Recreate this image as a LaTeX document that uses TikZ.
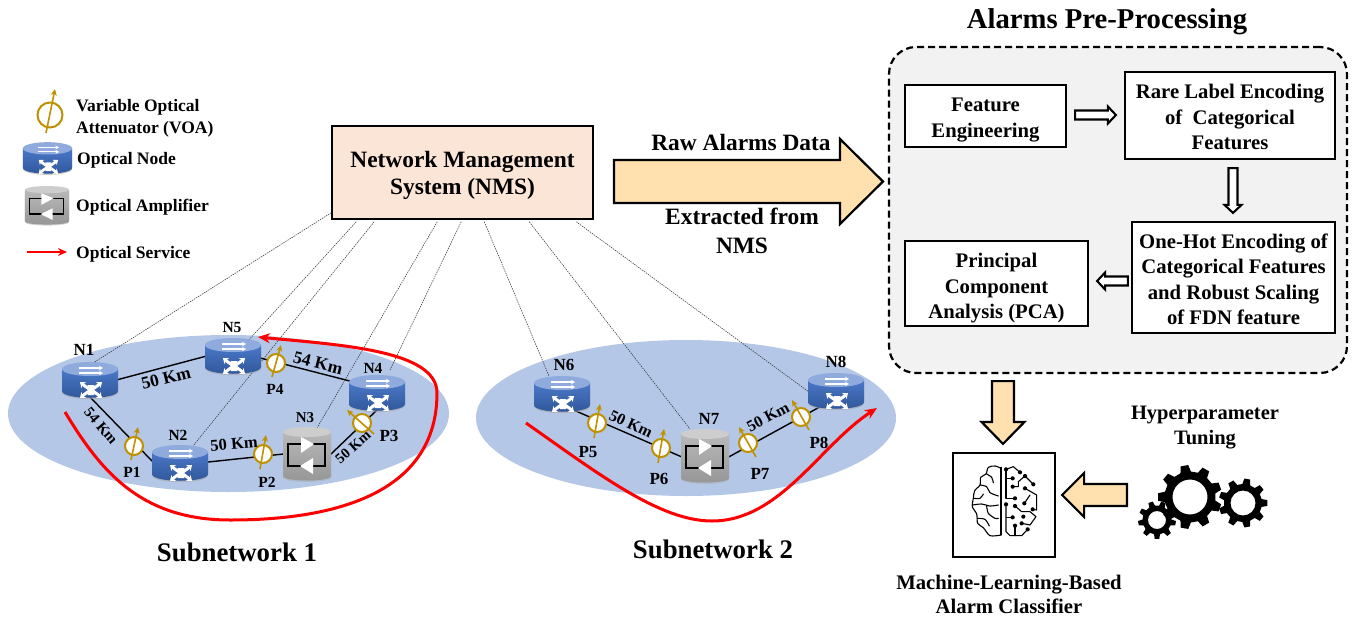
\documentclass[tikz,border=0pt]{standalone}
\usepackage{fontspec}
\setmainfont{Liberation Serif}
\usetikzlibrary{calc,arrows.meta,shapes.geometric}
\definecolor{subnetblue}{HTML}{B4C7E7}
\definecolor{routertop}{HTML}{8FAADC}
\definecolor{routerhi}{HTML}{4A78C8}
\definecolor{routerlo}{HTML}{2F5597}
\definecolor{amptop}{HTML}{CDCDCD}
\definecolor{amphi}{HTML}{B8B8B8}
\definecolor{amplo}{HTML}{969696}
\definecolor{voagold}{HTML}{BF9000}
\definecolor{nmsfill}{HTML}{FBE5D6}
\definecolor{panelfill}{HTML}{F2F2F2}
\definecolor{flowfill}{HTML}{FFE0AE}
\newcommand\fs[1]{\fontsize{#1}{#1}\selectfont\bfseries}
\newcommand\topgap[1]{\rule{0pt}{#1pt}}
\tikzset{
  lbl/.style={inner sep=0,align=center,font=\fs{#1}},
  blockbox/.style={draw=black,line width=2.2pt,fill=white,inner sep=0,align=center,font=\fontsize{20.7}{25.5}\selectfont\bfseries},
  link/.style={draw=black,line width=1.4pt},
  ctrl/.style={draw=black!80,line width=0.55pt,dash pattern=on 1.4pt off 1pt},
  service/.style={draw=red,line width=3pt,-{Stealth[length=12pt,width=10pt]}},
  hollow/.style={draw=black,line width=2.1pt,fill=white,line join=miter},
  flow/.style={draw=black,line width=2.2pt,fill=flowfill,line join=miter},
  voacirc/.style={circle,draw=voagold,line width=2pt,fill=white,inner sep=0,minimum size=18pt},
  voaarrow/.style={draw=voagold,line width=1.6pt,-{Stealth[length=6.5pt,width=6pt]}}
}
% block arrow between two named coordinates: style, a, b, half width, head half width, head length
\newcommand\blockarrow[6][]{%
  \coordinate (hb) at ($(#3)!#6!(#2)$);
  \draw[#1] ($(#2)!#4!90:(#3)$) -- ($(hb)!#4!90:(#3)$) -- ($(hb)!#5!90:(#3)$) -- (#3)
    -- ($(hb)!#5!-90:(#3)$) -- ($(hb)!#4!-90:(#3)$) -- ($(#2)!#4!-90:(#3)$) -- cycle;
}
% router: name, x, y, scale
\newcommand\routerdraw[4]{%
  \node[inner sep=0,minimum width=#4*56pt,minimum height=#4*36pt] (#1) at (#2,#3) {};
  \begin{scope}[shift={(#2,#3)},x=#4*1pt,y=-#4*1pt]
    \fill[black!35,opacity=.6] (-28,-10) -- (-28,12) .. controls (-28,21.5) and (28,21.5) .. (28,12) -- (28,-10) -- cycle;
    \shade[top color=routerhi,bottom color=routerlo] (-28,-11) -- (-28,11) .. controls (-28,20) and (28,20) .. (28,11) -- (28,-11) -- cycle;
    \fill[routertop] (0,-11) ellipse [x radius=#4*28pt,y radius=#4*7pt];
    \draw[white,line width=#4*1.4pt,-{Stealth[length=#4*4pt,width=#4*4.5pt]}] (-11,-12) -- (13,-12);
    \draw[white,line width=#4*1.4pt,-{Stealth[length=#4*4pt,width=#4*4.5pt]}] (-11,-7) -- (13,-7);
    \foreach \sx/\sy in {-1/-1,1/-1,-1/1,1/1}
      \draw[white,line width=#4*3pt,-{Stealth[length=#4*5pt,width=#4*7.5pt]}] (1,10) .. controls (1+2*\sx,10+\sy) and (1+5*\sx,10+3*\sy) .. (1+11*\sx,10+8*\sy);
    \fill[white] (-2.5,5) -- (4.5,5) -- (3,10) -- (4.5,15) -- (-2.5,15) -- (-1,10) -- cycle;
  \end{scope}}
% amplifier: name, x, y, xscale, yscale
\newcommand\ampdraw[5]{%
  \node[inner sep=0,minimum width=#4*48pt,minimum height=#5*54pt] (#1) at (#2,#3) {};
  \begin{scope}[shift={(#2,#3)},x=#4*1pt,y=-#5*1pt]
    \fill[black!35,opacity=.45] (-24,-21) -- (-24,23) .. controls (-24,29.5) and (24,29.5) .. (24,23) -- (24,-21) -- cycle;
    \shade[top color=amphi,bottom color=amplo] (-24,-21) -- (-24,22) .. controls (-24,28) and (24,28) .. (24,22) -- (24,-21) -- cycle;
    \fill[amptop] (0,-22) ellipse [x radius=#4*24pt,y radius=#5*5pt];
    \draw[black,line width=#4*1.5pt] (-19,-10) rectangle (18,12);
    \fill[white] (-6,-17) -- (7,-10) -- (-6,-1) -- cycle;
    \fill[white] (6,4) -- (-7,12) -- (6,20) -- cycle;
  \end{scope}}
% VOA: name, x, y, arrow start offset, arrow end offset
\newcommand\voadraw[5]{%
  \node[voacirc] (#1) at (#2,#3) {};
  \draw[voaarrow] ($(#1)+(#4)$) -- ($(#1)+(#5)$);}
% gear: x,y,outer,root,hole,teeth,offset
\newcommand\geardraw[7]{%
  \pgfmathsetmacro\gp{360/#6}
  \fill[black,even odd rule] ([shift={(#1,#2)}]#7-.3*\gp:#4)
    \foreach \i in {1,...,#6}{
      \pgfextra{\pgfmathsetmacro\ga{#7+(\i-1)*\gp}}
      -- ([shift={(#1,#2)}]\ga-.3*\gp:#4)
      -- ([shift={(#1,#2)}]\ga-.17*\gp:#3)
      -- ([shift={(#1,#2)}]\ga+.17*\gp:#3)
      -- ([shift={(#1,#2)}]\ga+.3*\gp:#4)
    } -- cycle
    (#1,#2) circle [radius=#5 pt];}
\begin{document}
\begin{tikzpicture}[x=1pt,y=-1pt]
\useasboundingbox (0,0) rectangle (1353,619);
\fill[white] (0,0) rectangle (1353,619);

% subnetwork clouds
\node[ellipse,fill=subnetblue,inner sep=0,minimum width=441pt,minimum height=157pt] (sub1) at (228.5,413.5) {};
\node[ellipse,fill=subnetblue,inner sep=0,minimum width=420pt,minimum height=156pt] (sub2) at (686,418) {};

% panel
\node[draw=black,line width=2.2pt,dash pattern=on 7pt off 4pt,fill=panelfill,rounded corners=27pt,inner sep=0,minimum width=458pt,minimum height=326pt] (panel) at (1118,210) {};

% NMS
\node[draw=black,line width=1.5pt,fill=nmsfill,inner sep=0,minimum width=261pt,minimum height=93pt,align=center,font=\fontsize{23.4}{26.5}\selectfont\bfseries] (nms) at (462.5,172.5) {\topgap{22}Network Management\\System (NMS)};

\path (90,380) coordinate (cn1) (233,356) coordinate (cn5) (377,393) coordinate (cn4)
      (180,463) coordinate (cn2) (307,454) coordinate (cn3)
      (562,394) coordinate (cn6) (705,456) coordinate (cn7) (836,391) coordinate (cn8);

% control lines
\draw[ctrl] ($(nms.south west)+(0,-7)$) -- ($(cn1)+(3,-17)$);
\draw[ctrl] ($(nms.south west)+(25,2)$) -- ($(cn5)+(14,-14)$);
\draw[ctrl] ($(nms.south west)+(43,2)$) -- ($(cn2)+(13,-17)$);
\draw[ctrl] ($(nms.south west)+(106,2)$) -- ($(cn3)+(10,-26)$);
\draw[ctrl] ($(nms.south west)+(130,2)$) -- ($(cn4)+(13,-23)$);
\draw[ctrl] ($(nms.south west)+(153,2)$) -- ($(cn6)+(-13,-18)$);
\draw[ctrl] ($(nms.south west)+(198,2)$) -- ($(cn7)+(-15,-27)$);
\draw[ctrl] ($(nms.south west)+(245,2)$) -- ($(cn8)+(-27,1)$);

% links
\draw[link] ($(cn1)+(0,7)$) -- ($(cn5)+(0,-7)$);
\draw[link] ($(cn5)+(0,-5)$) -- ($(cn4)+(0,-5)$);
\draw[link] ($(cn1)+(0,17)$) -- ($(cn2)+(-27,-1)$);
\draw[link] ($(cn2)+(0,2)$) -- ($(cn3)+(0,-2.5)$);
\draw[link] ($(cn3)+(24,0)$) -- ($(cn4)+(0,17)$);
\draw[link] ($(cn6)+(0,11)$) -- ($(cn7)+(0,11)$);
\draw[link] ($(cn7)+(0,14)$) -- ($(cn8)+(0,7)$);

% network devices
\routerdraw{n1}{90}{380}{1}
\routerdraw{n5}{233}{356}{1}
\routerdraw{n4}{377}{393}{1}
\routerdraw{n2}{180}{463}{1}
\ampdraw{n3}{307}{454}{1}{1}
\routerdraw{n6}{562}{394}{1}
\ampdraw{n7}{705}{456}{1}{1}
\routerdraw{n8}{836}{391}{1}

% VOAs
\voadraw{p1}{134}{446}{-3,14}{4,-19}
\voadraw{p2}{263}{454}{-3,15}{3,-19}
\voadraw{p3}{362}{423}{12,11}{-15,-13}
\voadraw{p4}{276}{363}{-4,14}{5,-18}
\voadraw{p5}{597}{423}{-3,15}{3,-19}
\voadraw{p6}{661}{448}{-3,15}{3,-19}
\voadraw{p7}{748}{443}{8,14}{-9,-16}
\voadraw{p8}{801}{417}{8,13}{-9,-17}

% device labels
\foreach \nm/\px/\py/\tx/\sz in {ln1/84/350/N1/17,ln5/232/327/N5/15.5,ln4/373/368/N4/15.5,ln2/178/435/N2/15.5,ln3/305/418/N3/15,ln6/564/365/N6/17,ln7/709/419/N7/17,ln8/836/362/N8/17}
  \node[lbl=\sz] (\nm) at (\px,\py) {\tx};
\foreach \nm/\px/\py/\tx/\sz in {lp1/132/472/P1/15.5,lp2/267/482/P2/15.5,lp3/389/436/P3/17,lp4/275/389/P4/15.5,lp5/588/452/P5/17,lp6/659/479/P6/17,lp7/760/474/P7/17,lp8/819/443/P8/17}
  \node[lbl=\sz] (\nm) at (\px,\py) {\tx};

% distance labels
\node[lbl=17.5,rotate=14] (d1) at (166,378) {50 Km};
\node[lbl=15,rotate=-50] (d2) at (101,426) {54 Km};
\node[lbl=17.5,rotate=-14] (d3) at (318,363) {54 Km};
\node[lbl=16.5,rotate=5] (d4) at (234,444) {50 Km};
\node[lbl=14.5,rotate=41] (d5) at (353,447) {50 Km};
\node[lbl=16,rotate=-25] (d6) at (631,424) {50 Km};
\node[lbl=16,rotate=28] (d7) at (768,417) {50 Km};

% optical services
\coordinate (s1a) at (65,412);
\coordinate (s1b) at (258,337);
\draw[service] (s1a) .. controls (100,470) and (140,520) .. (230,520) .. controls (310,520) and (437,505) .. (437,393) .. controls (437,350) and (340,345) .. (s1b);
\coordinate (s2a) at (526,423);
\coordinate (s2b) at (877,408);
\draw[service] (s2a) .. controls (600,475) and (660,521) .. (712,521) .. controls (780,521) and (820,445) .. (s2b);

% subnetwork captions
\node[lbl=26.8] (cap1) at (237,552) {Subnetwork 1};
\node[lbl=26.8] (cap2) at (713,549) {Subnetwork 2};

% legend
\node[circle,draw=voagold,line width=2pt,inner sep=0,minimum size=25pt] (lv) at (50,115) {};
\draw[voaarrow] ($(lv)+(-4,18)$) -- ($(lv)+(5,-26)$);
\routerdraw{lr}{47.5}{158}{.88}
\ampdraw{la}{47}{205.5}{.92}{.72}
\coordinate (lsa) at (27,252);
\coordinate (lsb) at (67,252);
\draw[draw=red,line width=2pt,-{Stealth[length=9pt,width=8pt]}] (lsa) -- (lsb);
\node[lbl=17.5,anchor=west,align=left,font=\fontsize{17.5}{22}\selectfont\bfseries] (lt1) at (76,118) {Variable Optical\\Attenuator (VOA)};
\node[lbl=17.5,anchor=west] (lt2) at (77,160) {Optical Node};
\node[lbl=17.5,anchor=west] (lt3) at (76,207) {Optical Amplifier};
\node[lbl=17.5,anchor=west] (lt4) at (76,254) {Optical Service};

% big arrow
\coordinate (bigA) at (614,181.5);
\coordinate (bigB) at (883,181.5);
\blockarrow[flow]{bigA}{bigB}{21.5pt}{42.5pt}{43pt}
\node[lbl=23.4] (raw) at (741,142) {Raw Alarms Data};
\node[lbl=23.4,font=\fontsize{23.4}{29}\selectfont\bfseries] (ext) at (742,231) {Extracted from\\NMS};

% title
\node[lbl=28.7] (title) at (1107,22) {Alarms Pre-Processing};

% pre-processing blocks
\node[blockbox,minimum width=161pt,minimum height=62pt] (fe) at (985.5,116) {\topgap{22}Feature\\Engineering};
\node[blockbox,minimum width=210pt,minimum height=87pt] (rare) at (1230,115.5) {\topgap{18}Rare Label Encoding\\of\ \ Categorical\\Features};
\node[blockbox,minimum width=203pt,minimum height=111pt] (hot) at (1233.5,277.5) {\topgap{18}One-Hot Encoding of\\Categorical Features\\and Robust Scaling\\of FDN feature};
\node[blockbox,minimum width=183pt,minimum height=85pt] (pca) at (996.5,283.5) {\topgap{24}Principal\\Component\\Analysis (PCA)};

\coordinate (h1a) at ($(fe.east)+(8,-1)$);
\coordinate (h1b) at ($(rare.west)+(-8,-.5)$);
\blockarrow[hollow]{h1a}{h1b}{4.5pt}{8.5pt}{8pt}
\coordinate (h2a) at ($(rare.south)+(3,8)$);
\coordinate (h2b) at ($(hot.north)+(-.5,-8)$);
\blockarrow[hollow]{h2a}{h2b}{4.5pt}{8.5pt}{8pt}
\coordinate (h3a) at ($(hot.west)+(-3,3.5)$);
\coordinate (h3b) at ($(pca.east)+(8,-2.5)$);
\blockarrow[hollow]{h3a}{h3b}{4.5pt}{8.5pt}{8pt}

% ML classifier
\node[draw=black,line width=2.2pt,fill=white,inner sep=0,minimum width=102pt,minimum height=104pt] (ml) at (1004,505) {};
\coordinate (f1a) at ($(panel.south)+(-115,7)$);
\coordinate (f1b) at ($(ml.north)+(-1,-8)$);
\blockarrow[flow]{f1a}{f1b}{11pt}{21.5pt}{22pt}
\coordinate (f2a) at (1127,495);
\coordinate (f2b) at ($(ml.east)+(6,-10)$);
\blockarrow[flow]{f2a}{f2b}{11pt}{22pt}{22pt}

% brain icon
\begin{scope}[shift={(930,370)},x=.33333pt,y=-.33333pt,line width=1.1pt,line cap=round,line join=round]
  \draw (213,292) -- (213,495);
  \draw plot[smooth] coordinates {(213,295)(195,288)(175,292)(168,312)(152,322)(150,345)(134,362)(130,385)(127,410)(140,432)(143,460)(160,473)(180,497)(213,495)};
  \draw plot[smooth] coordinates {(170,312)(185,322)(190,338)};
  \draw plot[smooth] coordinates {(150,345)(170,350)(180,368)(205,378)};
  \draw plot[smooth] coordinates {(130,385)(150,385)(160,372)};
  \draw plot[smooth] coordinates {(128,405)(155,402)(180,408)(205,405)};
  \draw plot[smooth] coordinates {(170,408)(175,430)(195,445)(205,445)};
  \draw plot[smooth] coordinates {(142,445)(165,448)(178,468)};
  \foreach \a in {(228,298),(270,307),(248,325),(285,318),(310,343),(248,350),(255,385),(285,355),(283,400),(308,418),(228,403),(255,408),(275,460),(248,442),(280,440),(255,467),(293,478)}
    \fill \a circle [radius=2.1pt];
  \draw (228,298) -- (250,290) -- (270,307);
  \draw (248,325) -- (228,325);
  \draw (228,298) -- (228,385) -- (255,385);
  \draw (248,350) -- (265,350) -- (265,335) -- (285,318) -- (310,343);
  \draw (285,355) -- (320,375) -- (320,420) -- (308,418);
  \draw (283,400) -- (300,375);
  \draw (228,403) -- (228,485) -- (240,497) -- (275,497) -- (293,478);
  \draw (255,408) -- (275,425) -- (300,425) -- (318,440) -- (300,465) -- (275,460);
  \draw (248,442) -- (228,442);
  \draw (255,467) -- (255,497);
\end{scope}

% gears
\geardraw{1190}{497}{32}{25.5}{17.5}{9}{20}
\geardraw{1243}{503}{24.5}{19}{12.5}{9}{0}
\geardraw{1157}{520}{19}{14.5}{9}{9}{10}

\node[lbl=20.5,font=\fontsize{20.5}{25}\selectfont\bfseries] (hp) at (1205,428) {Hyperparameter\\Tuning};
\node[lbl=20.7,font=\fontsize{20.7}{24}\selectfont\bfseries] (mlt) at (1009,594) {Machine-Learning-Based\\Alarm Classifier};
\end{tikzpicture}
\end{document}
